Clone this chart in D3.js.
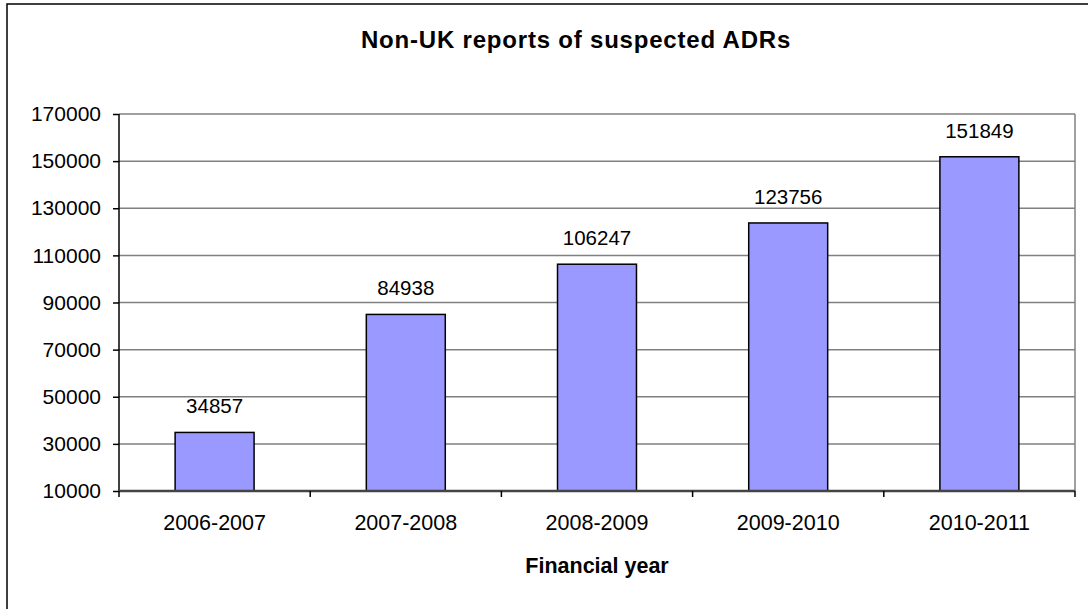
<!DOCTYPE html>
<html>
<head>
<meta charset="utf-8">
<script src="https://cdn.jsdelivr.net/npm/d3@7"></script>
<style>
  html, body { margin: 0; padding: 0; background: #fff; }
  svg { display: block; font-family: Arial, "Liberation Sans", sans-serif; }
</style>
</head>
<body>
<div id="chart"></div>
<script>
const categories = ['2006-2007', '2007-2008', '2008-2009', '2009-2010', '2010-2011'];
const reports = [34857, 84938, 106247, 123756, 151849];
const yTicks = [10000, 30000, 50000, 70000, 90000, 110000, 130000, 150000, 170000];

const W = 1088, H = 609;
const margin = { top: 114, right: 13, bottom: 118, left: 119 };
const iW = W - margin.left - margin.right;
const iH = H - margin.top - margin.bottom;

const svg = d3.select('#chart').append('svg').attr('width', W).attr('height', H);

// outer frame (runs off the right and bottom edges like the source)
svg.append('rect').attr('x', 7).attr('y', 4).attr('width', 1100).attr('height', 620)
  .attr('fill', 'none').attr('stroke', '#000').attr('stroke-width', 1.5);

svg.append('text').attr('x', 576).attr('y', 48).attr('text-anchor', 'middle')
  .attr('font-size', '24px').attr('font-weight', 'bold').attr('fill', '#000')
  .attr('letter-spacing', '0.8px')
  .text('Non-UK reports of suspected ADRs');

const g = svg.append('g').attr('transform', `translate(${margin.left},${margin.top})`);

const x = d3.scaleBand().domain(categories).range([0, iW]).paddingInner(0.587).paddingOuter(0.2935);
const y = d3.scaleLinear().domain([10000, 170000]).range([iH, 0]);

// gridlines
g.selectAll('.grid').data(yTicks.slice(1)).join('line')
  .attr('x1', 0).attr('x2', iW).attr('y1', d => y(d)).attr('y2', d => y(d))
  .attr('stroke', '#808080').attr('stroke-width', 1.5);

// right border of plot
g.append('line').attr('x1', iW).attr('x2', iW).attr('y1', 0).attr('y2', iH)
  .attr('stroke', '#808080').attr('stroke-width', 1.5);

// bars
g.selectAll('.bar').data(reports).join('rect')
  .attr('x', (d, i) => x(categories[i])).attr('width', x.bandwidth())
  .attr('y', d => y(d)).attr('height', d => iH - y(d))
  .attr('fill', '#9999FF').attr('stroke', '#000').attr('stroke-width', 1.5);

// value labels
g.selectAll('.val').data(reports).join('text')
  .attr('x', (d, i) => x(categories[i]) + x.bandwidth() / 2).attr('y', d => y(d) - 19)
  .attr('text-anchor', 'middle').attr('font-size', '20.5px').attr('fill', '#000')
  .text(d => d);

// y axis
const yAxis = g.append('g').call(d3.axisLeft(y).tickValues(yTicks).tickSize(6).tickPadding(12).tickFormat(d3.format('d')));
yAxis.select('.domain').attr('stroke', '#000').attr('stroke-width', 1.5).attr('d', `M0,0V${iH}`);
yAxis.selectAll('.tick line').attr('stroke', '#000').attr('stroke-width', 1.5);
yAxis.selectAll('.tick text').attr('font-size', '21px').attr('fill', '#000')
  .attr('font-family', 'Arial, "Liberation Sans", sans-serif');

// x axis
const xa = g.append('g').attr('transform', `translate(0,${iH})`);
xa.append('line').attr('x1', 0).attr('x2', iW).attr('stroke', '#444').attr('stroke-width', 2.5);
const bounds = d3.range(categories.length + 1).map(i => i * x.step());
xa.selectAll('.xt').data(bounds).join('line')
  .attr('x1', d => d).attr('x2', d => d).attr('y1', 0).attr('y2', 6)
  .attr('stroke', '#000').attr('stroke-width', 1.5);
xa.selectAll('.xl').data(categories).join('text')
  .attr('x', d => x(d) + x.bandwidth() / 2).attr('y', 39)
  .attr('text-anchor', 'middle').attr('font-size', '21.5px').attr('fill', '#000')
  .text(d => d);

svg.append('text').attr('x', margin.left + iW / 2).attr('y', 573).attr('text-anchor', 'middle')
  .attr('font-size', '21.5px').attr('font-weight', 'bold').attr('fill', '#000')
  .text('Financial year');
</script>
</body>
</html>
